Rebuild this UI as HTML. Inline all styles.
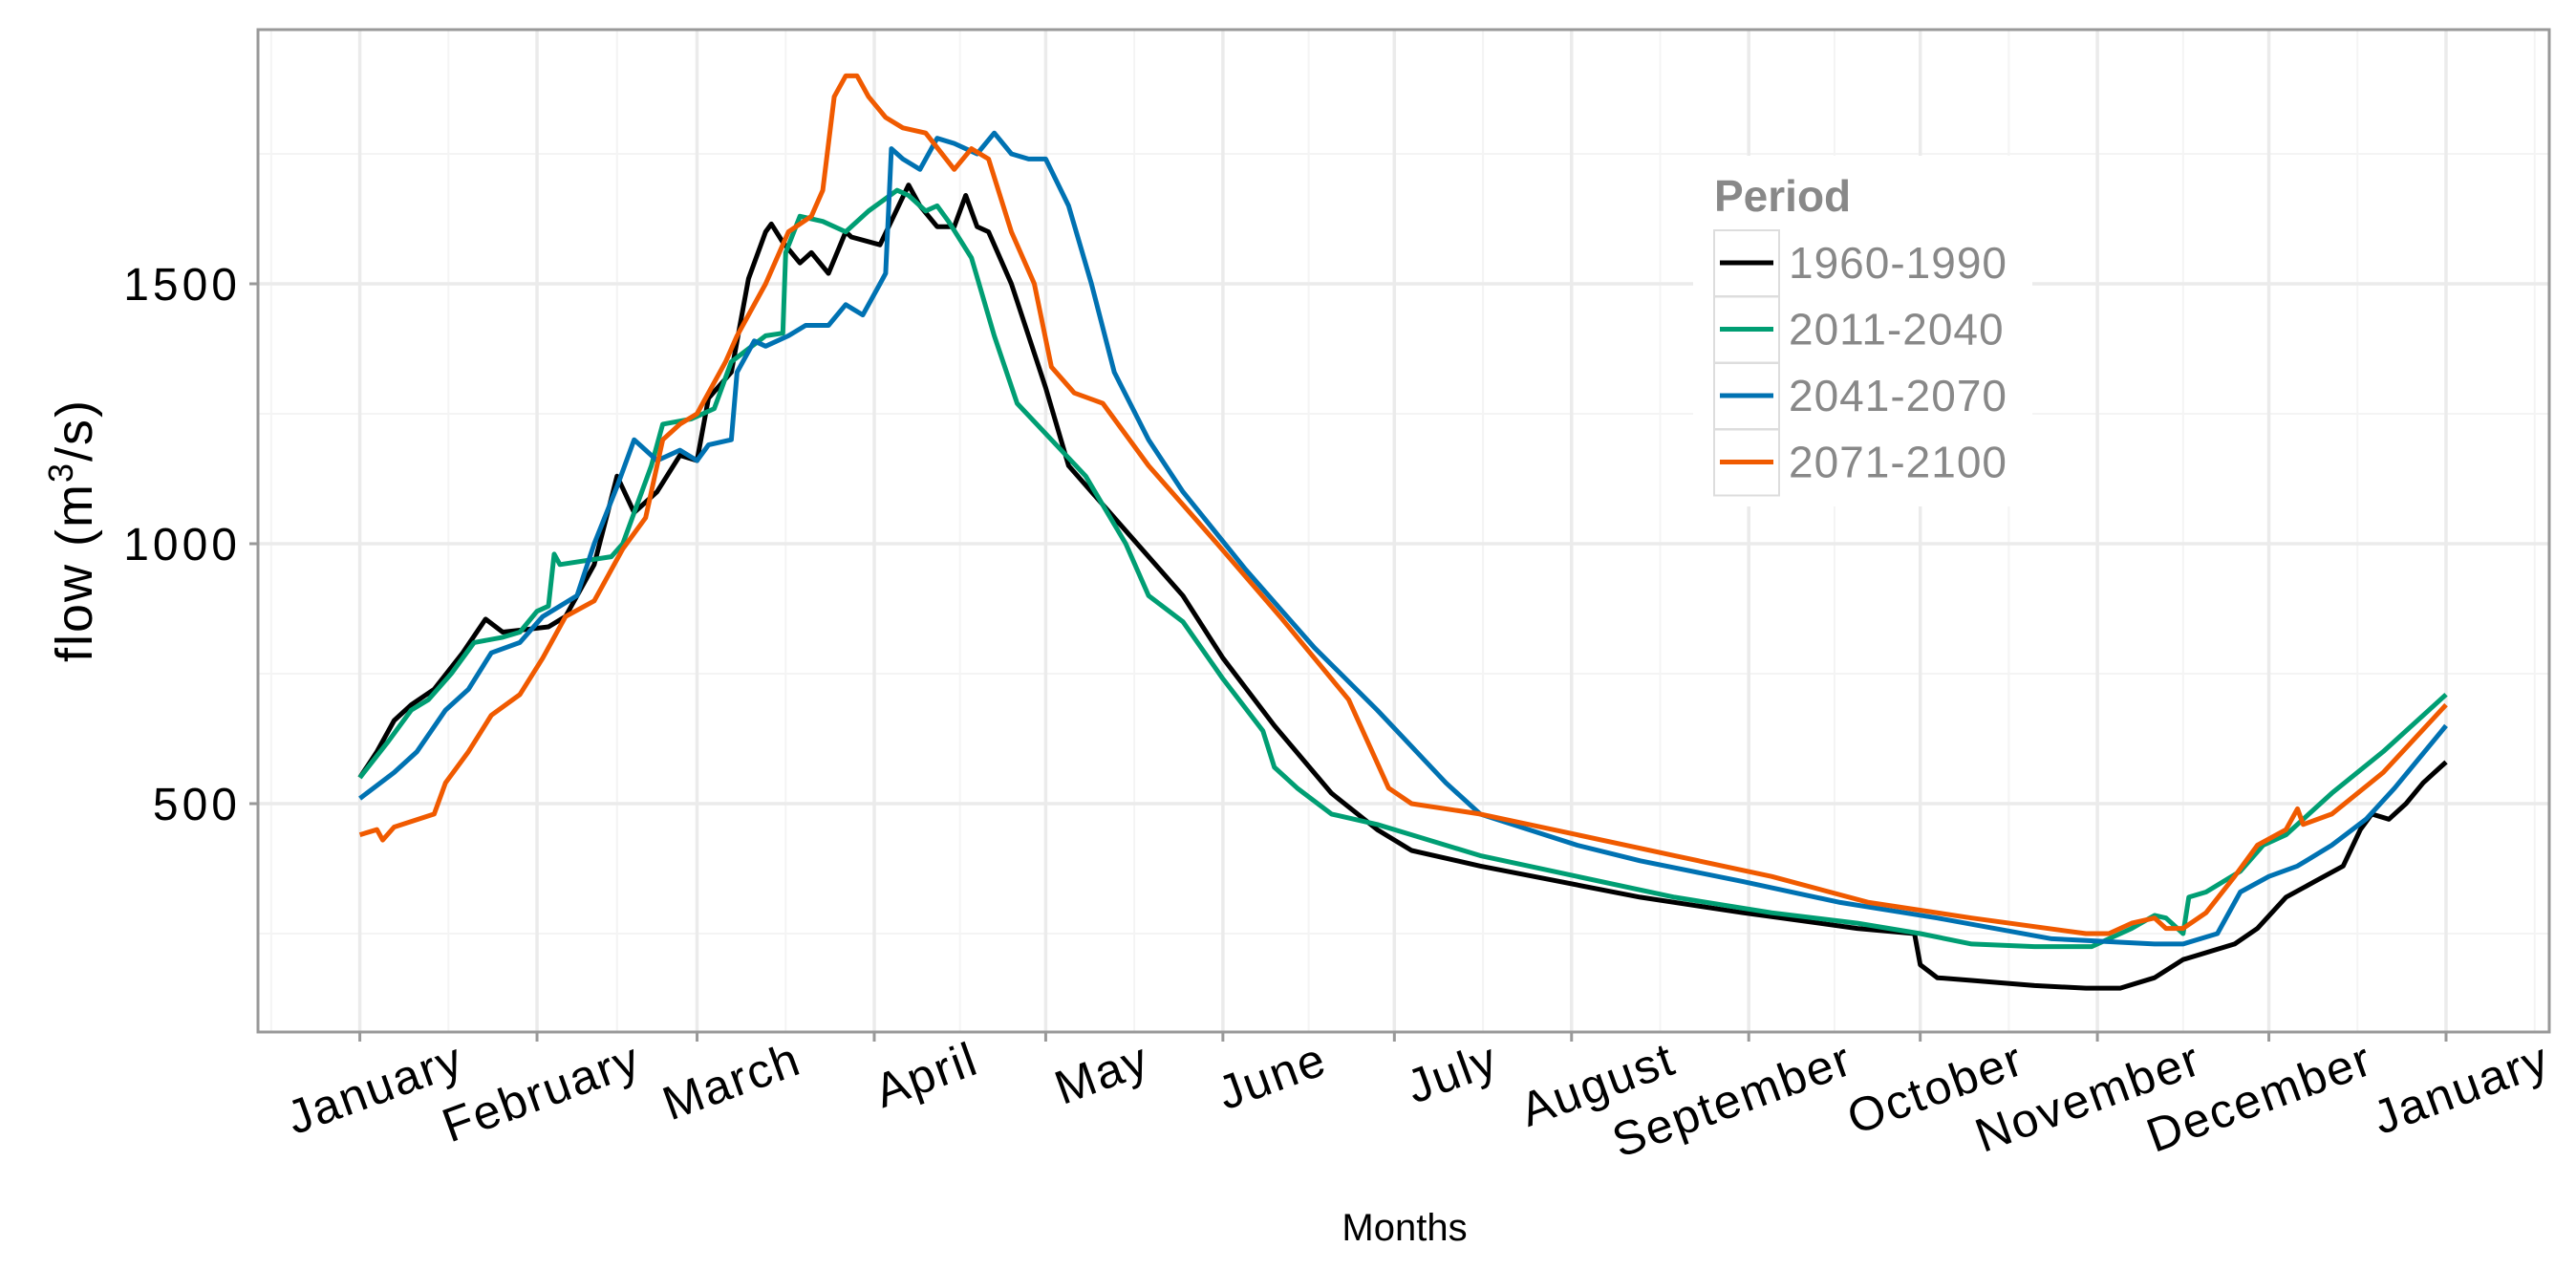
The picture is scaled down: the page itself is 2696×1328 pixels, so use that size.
<!DOCTYPE html>
<html><head><meta charset="utf-8"><style>
html,body{margin:0;padding:0;background:#fff}
svg{display:block;font-family:"Liberation Sans",Arial,sans-serif}
</style></head><body>
<svg id="chart" width="2696" height="1328" viewBox="0 0 2696 1328">
<g id="grid"></g>
<g id="series"></g>
<rect x="270" y="31" width="2398" height="1049" fill="none" stroke="#999" stroke-width="3"/>
<g id="axes"></g>
<text x="1470" y="1298" font-size="40" text-anchor="middle" fill="#000">Months</text>
<text transform="translate(96,555) rotate(-90)" font-size="54" text-anchor="middle" fill="#000" letter-spacing="2">flow   (m<tspan dy="-20" font-size="36">3</tspan><tspan dy="20">/s)</tspan></text>
<g id="legend"></g>
</svg>
<script>
const monthLabels=["January","February","March","April","May","June","July","August","September","October","November","December","January"];
const monthDays=[0,31,59,90,120,151,181,212,243,273,304,334,365];
const yTicks=[500,1000,1500];
const yMinor=[250,750,1250,1750];
const seriesNames=["1960-1990","2011-2040","2041-2070","2071-2100"];
const seriesColors=["#000000","#009E73","#0072B2","#F05A00"];
const daysA=[0,3,6,9,13,18,22,25,29,33,36,41,45,48,52,56,59,61,65,68,71,72,74,77,79,82,85,86,91,96,98,101,104,106,108,110,114,120,124,132,144,151,160,170,178,184,196,210,224,242,262,272,273,276,282,293,302,308,314,319,328,332,337,342,347,350,352,355,358,361,364,365];
const flowA=[550,600,660,690,720,790,855,830,835,840,860,960,1130,1060,1100,1170,1160,1280,1330,1510,1600,1615,1580,1540,1560,1520,1600,1590,1575,1690,1650,1610,1610,1670,1610,1600,1500,1300,1150,1050,900,780,650,520,450,410,380,350,320,290,260,250,190,165,160,150,145,145,165,200,230,260,320,350,380,450,480,470,500,540,570,580];
const daysB=[0,5,9,12,16,20,25,28,31,33,34,35,41,44,46,51,53,58,62,65,71,74,74.5,77,81,85,89,94,96,99,101,103,107,111,115,121,127,134,138,144,151,158,160,164,170,178,184,196,213,230,247,262,273,282,293,303,310,314,316,319,320,323,329,333,337,345,354,365];
const flowB=[550,620,680,700,750,810,820,830,870,880,980,960,970,975,1000,1150,1230,1240,1260,1350,1400,1405,1560,1630,1620,1600,1640,1680,1670,1640,1650,1620,1550,1400,1270,1200,1130,1000,900,850,740,640,570,530,480,460,440,400,360,320,290,270,250,230,225,225,260,285,280,250,320,330,370,420,440,520,600,710];
const daysC=[0,6,10,15,19,23,28,32,38,41,45,48,49,52,56,59,61,65,66,69,71,75,78,82,85,88,91,92,93,95,98,101,104,108,111,114,117,120,124,128,132,138,144,155,167,178,190,196,213,224,242,259,276,296,314,319,325,329,334,339,345,351,356,365];
const flowC=[510,560,600,680,720,790,810,860,900,1000,1110,1200,1190,1160,1180,1160,1190,1200,1330,1390,1380,1400,1420,1420,1460,1440,1500,1520,1760,1740,1720,1780,1770,1750,1790,1750,1740,1740,1650,1500,1330,1200,1100,950,800,680,540,480,420,390,350,310,280,240,230,230,250,330,360,380,420,470,530,650];
const daysD=[0,3,4,6,13,15,19,23,28,32,36,41,46,50,53,56,59,64,66,71,75,79,81,83,85,87,89,92,95,99,104,107,110,114,118,121,125,130,138,150,161,173,180,184,196,213,230,247,264,282,302,306,310,314,316,319,323,328,332,337,339,340,345,354,365];
const flowD=[440,450,430,455,480,540,600,670,710,780,860,890,990,1050,1200,1230,1250,1350,1400,1500,1600,1630,1680,1860,1900,1900,1860,1820,1800,1790,1720,1760,1740,1600,1500,1340,1290,1270,1150,1000,860,700,530,500,480,440,400,360,310,280,250,250,270,280,260,260,290,360,420,450,490,460,480,560,690];
const seriesDays=[daysA,daysB,daysC,daysD];
const seriesFlows=[flowA,flowB,flowC,flowD];

const NS="http://www.w3.org/2000/svg";
const L=270,R=2668,T=31,B=1080;
const xs=d=>376.6+d*(2560-376.6)/365;
const ys=v=>841-(v-500)*0.544;
function mk(tag,attrs,parent){const e=document.createElementNS(NS,tag);for(const k in attrs)e.setAttribute(k,attrs[k]);parent.appendChild(e);return e;}
const grid=document.getElementById('grid'),axes=document.getElementById('axes'),ser=document.getElementById('series'),leg=document.getElementById('legend');
mk('rect',{x:L,y:T,width:R-L,height:B-T,fill:'#fff'},grid);
const minorX=[];
for(let i=0;i<monthDays.length-1;i++)minorX.push((monthDays[i]+monthDays[i+1])/2);
minorX.push(monthDays[0]-15.5);minorX.push(365+15.5);
minorX.forEach(d=>{const x=xs(d);if(x>L&&x<R){const l=mk('line',{x1:x,x2:x,y1:T,y2:B,stroke:'#f4f4f4','stroke-width':2},grid);

}});
yMinor.forEach(v=>{const y=ys(v);const l=mk('line',{x1:L,x2:R,y1:y,y2:y,stroke:'#f4f4f4','stroke-width':2},grid);

});
monthDays.forEach(d=>{const x=xs(d);const l=mk('line',{x1:x,x2:x,y1:T,y2:B,stroke:'#ebebeb','stroke-width':3.5},grid);

});
yTicks.forEach(v=>{const y=ys(v);const l=mk('line',{x1:L,x2:R,y1:y,y2:y,stroke:'#ebebeb','stroke-width':3.5},grid);

});
seriesDays.forEach((ds,i)=>{const pts=ds.map((d,j)=>xs(d).toFixed(1)+','+ys(seriesFlows[i][j]).toFixed(1)).join(' ');
const p=mk('polyline',{points:pts,fill:'none',stroke:seriesColors[i],'stroke-width':5,'stroke-linejoin':'round'},ser);

});
yTicks.forEach(v=>{const y=ys(v);mk('line',{x1:L-9,x2:L,y1:y,y2:y,stroke:'#999','stroke-width':3},axes);
const t=mk('text',{x:L-18,y:y+17,'font-size':48,'letter-spacing':4,'text-anchor':'end',fill:'#000'},axes);t.textContent=v;

});
monthDays.forEach((d,i)=>{const x=xs(d);mk('line',{x1:x,x2:x,y1:B,y2:B+10,stroke:'#999','stroke-width':3},axes);
const t=mk('text',{transform:`translate(${x+112},${B+42}) rotate(-20)`,'font-size':50,'letter-spacing':2,'text-anchor':'end',fill:'#000'},axes);t.textContent=monthLabels[i];

});
mk('rect',{x:1772,y:163,width:355,height:367,fill:'#fff'},leg);
const tt=mk('text',{x:1794,y:221,'font-size':46,'font-weight':'bold',fill:'#888'},leg);tt.textContent='Period';


seriesNames.forEach((n,i)=>{const cy=275+i*69.5;
const g=mk('g',{},leg);


mk('rect',{x:1794,y:cy-34,width:68,height:69,fill:'#fff',stroke:'#ddd','stroke-width':2},g);
mk('line',{x1:1800,x2:1856,y1:cy,y2:cy,stroke:seriesColors[i],'stroke-width':5},g);
const t=mk('text',{x:1872,y:cy+16,'font-size':46,'letter-spacing':1,fill:'#888'},g);t.textContent=n;});
</script>
</body></html>
